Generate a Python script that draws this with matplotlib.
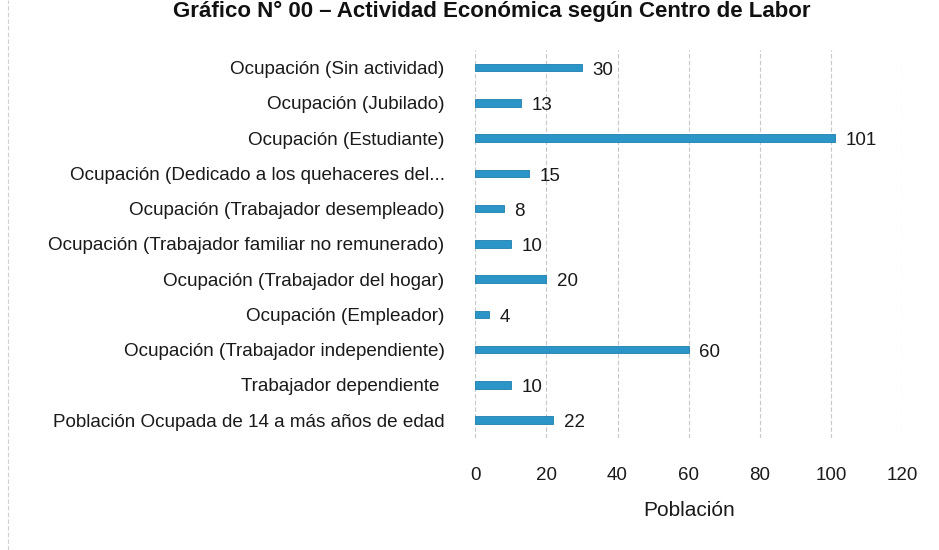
import matplotlib
matplotlib.use("Agg")
import matplotlib.pyplot as plt

categories = [
    "Población Ocupada de 14 a más años de edad",
    "Trabajador dependiente ",
    "Ocupación (Trabajador independiente)",
    "Ocupación (Empleador)",
    "Ocupación (Trabajador del hogar)",
    "Ocupación (Trabajador familiar no remunerado)",
    "Ocupación (Trabajador desempleado)",
    "Ocupación (Dedicado a los quehaceres del...",
    "Ocupación (Estudiante)",
    "Ocupación (Jubilado)",
    "Ocupación (Sin actividad)",
]
values = [22, 10, 60, 4, 20, 10, 8, 15, 101, 13, 30]
xticks = [0, 20, 40, 60, 80, 100, 120]
title = "Gráfico N° 00 – Actividad Económica según Centro de Labor"
xlabel = "Población"

plt.rcParams["font.family"] = ["Liberation Sans", "DejaVu Sans"]

fig = plt.figure(figsize=(9.39, 5.5), dpi=100)
ax = fig.add_axes([0.506, 0.204, 0.455, 0.705])

bar_color = "#2B95C8"
ypos = list(range(len(categories)))
ax.barh(ypos, values, height=0.21, color=bar_color, edgecolor="#1f7fae", linewidth=0.6)
for y, v in zip(ypos, values):
    ax.text(v + 3, y - 0.08, str(v), va="center", ha="left", fontsize=13.5, color="#1a1a1a")

ax.set_xlim(0, 120)
ax.set_ylim(-0.5, len(categories) - 0.5)
ax.set_yticks(ypos)
ax.set_yticklabels(categories, fontsize=13.6, color="#1a1a1a")
ax.set_xticks(xticks)
ax.set_xticklabels([str(t) for t in xticks], fontsize=13.5, color="#1a1a1a")
ax.tick_params(axis="y", length=0, pad=22)
ax.tick_params(axis="x", length=0, pad=21)
ax.set_xlabel(xlabel, fontsize=15, color="#1a1a1a", labelpad=12)
ax.grid(axis="x", color="#c8c8c8", linestyle=(0, (4, 2)), linewidth=0.8)
ax.set_axisbelow(True)
for s in ax.spines.values():
    s.set_visible(False)

fig.text(0.524, 0.998, title, ha="center", va="top", fontsize=16, fontweight="bold", color="#111111")
fig.add_artist(plt.Line2D([0.009, 0.009], [0.0, 1.0], transform=fig.transFigure,
                          color="#d0d0d0", linewidth=0.8, linestyle=(0, (4, 2))))

fig.savefig("out.png", dpi=100)
